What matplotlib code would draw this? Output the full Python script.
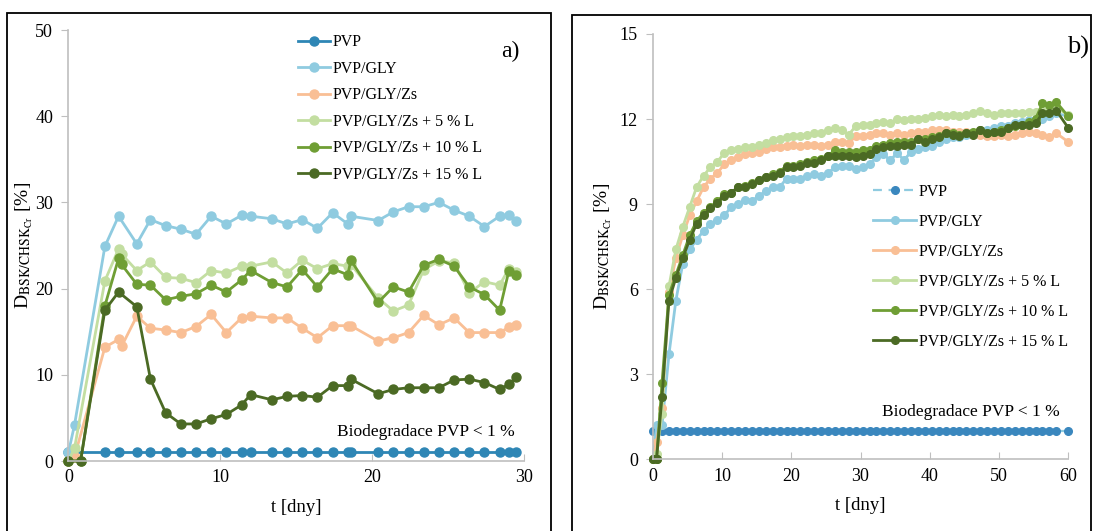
"""
Biodegradation degree D_BSK/CHSK_Cr of PVP-based films.

Panel a) first 30 days, panel b) 60-day run. Values are read off the original
figure; missing points in panel a) are NaN and simply skipped when drawing.
"""

import numpy as np
import matplotlib

matplotlib.use("Agg")
import matplotlib.pyplot as plt
from matplotlib.patches import Rectangle

nan = float("nan")

labels = [
    "PVP",
    "PVP/GLY",
    "PVP/GLY/Zs",
    "PVP/GLY/Zs + 5 % L",
    "PVP/GLY/Zs + 10 % L",
    "PVP/GLY/Zs + 15 % L",
]

# --- panel a) -------------------------------------------------------------
t_a = [0, 0.4, 0.8, 2.4, 3.3, 3.5,
       4.5, 5.4, 6.4, 7.4, 8.4, 9.4, 10.4, 11.4, 12.0,
       13.4, 14.4, 15.4, 16.4, 17.4, 18.4, 18.6,
       20.4, 21.4, 22.4, 23.4, 24.4, 25.4, 26.4, 27.4, 28.4, 29.0, 29.5]
a_pvp = [1.0, nan, nan, 1.0, 1.0, nan,
         1.0, 1.0, 1.0, 1.0, 1.0, 1.0, 1.0, 1.0, 1.0,
         1.0, 1.0, 1.0, 1.0, 1.0, 1.0, 1.0,
         1.0, 1.0, 1.0, 1.0, 1.0, 1.0, 1.0, 1.0, 1.0, 1.0, 1.0]
a_gly = [1.0, 4.2, nan, 24.9, 28.4, nan,
         25.2, 28.0, 27.3, 26.9, 26.3, 28.4, 27.5, 28.5, 28.4,
         28.1, 27.5, 28.0, 27.0, 28.8, 27.5, 28.4,
         27.9, 28.9, 29.5, 29.5, 30.0, 29.1, 28.4, 27.2, 28.4, 28.5, 27.9]
a_zs = [0.0, 0.5, nan, 13.2, 14.1, 13.3,
        16.8, 15.4, 15.2, 14.9, 15.6, 17.0, 14.9, 16.6, 16.8,
        16.6, 16.6, 15.4, 14.3, 15.7, 15.7, 15.7,
        13.9, 14.3, 14.9, 16.9, 15.8, 16.6, 14.9, 14.9, 14.9, 15.5, 15.8]
a_l5 = [0.0, 1.5, nan, 20.9, 24.6, 24.0,
        22.1, 23.1, 21.3, 21.2, 20.7, 22.1, 21.8, 22.6, 22.6,
        23.1, 21.8, 23.3, 22.3, 22.9, 22.6, 22.8,
        18.9, 17.4, 18.1, 22.2, 23.2, 23.0, 19.5, 20.8, 20.4, 22.3, 21.9]
a_l10 = [0.0, nan, 0.0, 18.0, 23.5, 22.8,
         20.5, 20.4, 18.7, 19.1, 19.4, 20.4, 19.6, 21.0, 22.1,
         20.7, 20.2, 22.2, 20.2, 22.3, 21.6, 23.3,
         18.4, 20.2, 19.6, 22.7, 23.4, 22.6, 20.2, 19.3, 17.5, 22.0, 21.6]
a_l15 = [0.0, nan, 0.0, 17.5, 19.6, nan,
         17.9, 9.5, 5.6, 4.3, 4.3, 4.9, 5.4, 6.5, 7.7,
         7.1, 7.5, 7.6, 7.4, 8.75, 8.75, 9.5,
         7.8, 8.3, 8.5, 8.5, 8.5, 9.4, 9.5, 9.1, 8.3, 8.9, 9.7]

# --- panel b) -------------------------------------------------------------
t_b = [0, 0.5, 1.3, 2.3, 3.3, 4.3, 5.3, 6.3, 7.3, 8.3, 9.3,
       10.3, 11.3, 12.3, 13.3, 14.3, 15.3, 16.3, 17.3, 18.3, 19.3,
       20.3, 21.3, 22.3, 23.3, 24.3, 25.3, 26.3, 27.3, 28.3, 29.3,
       30.3, 31.3, 32.3, 33.3, 34.3, 35.3, 36.3, 37.3, 38.3, 39.3,
       40.3, 41.3, 42.3, 43.3, 44.3, 45.3, 46.3, 47.3, 48.3, 49.3,
       50.3, 51.3, 52.3, 53.3, 54.3, 55.3, 56.3, 57.3, 58.3, 60]
b_pvp = [1.0, 1.0, 1.0, 1.0, 1.0, 1.0, 1.0, 1.0, 1.0, 1.0, 1.0,
         1.0, 1.0, 1.0, 1.0, 1.0, 1.0, 1.0, 1.0, 1.0, 1.0,
         1.0, 1.0, 1.0, 1.0, 1.0, 1.0, 1.0, 1.0, 1.0, 1.0,
         1.0, 1.0, 1.0, 1.0, 1.0, 1.0, 1.0, 1.0, 1.0, 1.0,
         1.0, 1.0, 1.0, 1.0, 1.0, 1.0, 1.0, 1.0, 1.0, 1.0,
         1.0, 1.0, 1.0, 1.0, 1.0, 1.0, 1.0, 1.0, 1.0, 1.0]
b_gly = [0.0, 1.2, 1.2, 3.7, 5.6, 6.9, 7.4, 7.75, 8.05, 8.3, 8.45,
         8.6, 8.9, 9.0, 9.15, 9.1, 9.3, 9.45, 9.6, 9.6, 9.9,
         9.9, 9.9, 10.0, 10.05, 10.0, 10.1, 10.3, 10.35, 10.35, 10.25,
         10.3, 10.4, 10.65, 10.75, 10.55, 10.8, 10.55, 10.85, 10.95, 11.0,
         11.05, 11.2, 11.3, 11.35, 11.35, 11.45, 11.5, 11.55, 11.6, 11.7,
         11.75, 11.75, 11.85, 11.9, 11.95, 12.0, 12.0, 12.1, 12.2, 12.1]
b_zs = [0.0, 0.6, 1.8, 5.9, 7.1, 7.9, 8.6, 9.1, 9.6, 9.9, 10.1,
        10.4, 10.55, 10.65, 10.75, 10.8, 10.85, 10.95, 11.0, 11.0, 11.05,
        11.1, 11.05, 11.1, 11.1, 11.05, 11.1, 11.2, 11.2, 11.15, 11.4,
        11.4, 11.45, 11.5, 11.5, 11.45, 11.5, 11.45, 11.5, 11.55, 11.55,
        11.6, 11.6, 11.6, 11.55, 11.55, 11.55, 11.5, 11.45, 11.4, 11.4,
        11.45, 11.4, 11.45, 11.5, 11.55, 11.5, 11.45, 11.35, 11.5, 11.2]
b_l5 = [0.0, 0.2, 1.6, 6.1, 7.4, 8.2, 8.9, 9.6, 10.0, 10.3, 10.5,
        10.8, 10.9, 10.95, 11.0, 11.0, 11.1, 11.15, 11.25, 11.3, 11.35,
        11.4, 11.4, 11.45, 11.5, 11.5, 11.6, 11.7, 11.6, 11.45, 11.75,
        11.8, 11.8, 11.85, 11.9, 11.85, 12.0, 11.95, 12.0, 12.0, 12.05,
        12.1, 12.15, 12.1, 12.15, 12.1, 12.15, 12.2, 12.3, 12.2, 12.15,
        12.2, 12.2, 12.2, 12.2, 12.25, 12.25, 12.3, 12.35, 12.4, 12.15]
b_l10 = [0.0, 0.0, 2.7, 5.8, 6.5, 7.2, 7.9, 8.4, 8.7, 8.9, 9.1,
         9.35, 9.4, 9.6, 9.65, 9.75, 9.85, 9.95, 10.05, 10.15, 10.35,
         10.35, 10.4, 10.5, 10.55, 10.6, 10.7, 10.9, 10.85, 10.85, 10.85,
         10.9, 10.9, 11.05, 11.1, 11.15, 11.2, 11.2, 11.2, 11.3, 11.3,
         11.35, 11.4, 11.5, 11.5, 11.45, 11.5, 11.55, 11.6, 11.5, 11.55,
         11.6, 11.7, 11.75, 11.8, 11.9, 12.0, 12.55, 12.5, 12.6, 12.1]
b_l15 = [0.0, 0.0, 2.2, 5.6, 6.4, 7.1, 7.75, 8.3, 8.6, 8.85, 9.05,
         9.3, 9.4, 9.6, 9.6, 9.7, 9.85, 9.95, 10.0, 10.1, 10.3,
         10.3, 10.35, 10.45, 10.45, 10.55, 10.7, 10.7, 10.7, 10.7, 10.65,
         10.7, 10.75, 10.95, 11.0, 11.05, 11.05, 11.1, 11.1, 11.3, 11.2,
         11.3, 11.35, 11.5, 11.45, 11.4, 11.5, 11.45, 11.6, 11.5, 11.55,
         11.55, 11.7, 11.8, 11.8, 11.8, 11.85, 12.2, 12.2, 12.3, 11.7]

colors = ["#2e86b5", "#8fcbe0", "#f9bf95", "#c3dea1", "#6f9e34", "#4b6a24"]
AXIS_GREY = "#bfbfbf"
SERIF = "Liberation Serif"

plt.rcParams["font.family"] = SERIF
plt.rcParams["mathtext.fontset"] = "stix"


def draw_series(ax, t, y, color, lw, ms, **kw):
    """Plot one line+marker series, skipping NaN gaps instead of breaking the line."""
    t = np.asarray(t, dtype=float)
    y = np.asarray(y, dtype=float)
    ok = np.isfinite(y)
    (line,) = ax.plot(t[ok], y[ok], color=color, lw=lw, marker="o", ms=ms,
                      mec=kw.pop("mec", color), mfc=kw.pop("mfc", color),
                      clip_on=False, **kw)
    return line


def style_axes(ax, xmax, xstep, ymax, ystep, ylabelpad):
    """Excel-like axes: grey left/bottom spines, serif tick labels."""
    for side in ("top", "right"):
        ax.spines[side].set_visible(False)
    for side in ("left", "bottom"):
        ax.spines[side].set_color(AXIS_GREY)
        ax.spines[side].set_linewidth(1.2)
    ax.set_xlim(0, xmax)
    ax.set_ylim(0, ymax)
    ax.set_xticks(np.arange(0, xmax + 0.1, xstep))
    ax.set_yticks(np.arange(0, ymax + 0.1, ystep))
    ax.tick_params(axis="y", direction="out", length=5, color=AXIS_GREY, labelsize=13, pad=6)
    ax.tick_params(axis="x", direction="in", length=5, color=AXIS_GREY, labelsize=13, pad=6)
    ax.set_xlabel("t [dny]", fontsize=13.5, labelpad=9)
    ax.set_ylabel(r"D$_{\mathrm{BSK/CHSK}_{\mathrm{Cr}}}$ [%]", fontsize=14,
                  labelpad=ylabelpad)


fig = plt.figure(figsize=(10.97, 5.31), dpi=100)

# panel frames (bottom edge runs off the canvas, as in the source)
fig.patches.append(Rectangle((7 / 1097, -0.05), 544 / 1097, 1.05 - 13 / 531,
                             transform=fig.transFigure, fill=False, ec="black", lw=1.3))
fig.patches.append(Rectangle((572 / 1097, -0.05), 519 / 1097, 1.05 - 15 / 531,
                             transform=fig.transFigure, fill=False, ec="black", lw=1.3))

ax_a = fig.add_axes([0.0624, 0.1318, 0.4152, 0.8117])
ax_b = fig.add_axes([0.5953, 0.1350, 0.3783, 0.8010])

# panel a)
for y, c, lab in zip([a_pvp, a_gly, a_zs, a_l5, a_l10, a_l15], colors, labels):
    draw_series(ax_a, t_a, y, c, lw=2.0, ms=6.5, label=lab)
style_axes(ax_a, 30, 10, 50, 10, ylabelpad=0)
ax_a.legend(loc="upper left", bbox_to_anchor=(0.505, 0.99), frameon=False,
            fontsize=11.5, handlelength=2.0, handletextpad=0.15, labelspacing=0.66,
            borderpad=0, borderaxespad=0)
ax_a.text(0.99, 0.975, "a)", transform=ax_a.transAxes, fontsize=17, ha="right", va="top")
ax_a.text(29.4, 3.4, "Biodegradace PVP < 1 %", fontsize=12.5, ha="right", va="center")

# panel b)
draw_series(ax_b, t_b, b_pvp, colors[1], lw=1.6, ms=5.5, ls=(0, (4, 3)),
            mfc="#3a87be", mec="#3a87be", label=labels[0])
for y, c, lab in zip([b_gly, b_zs, b_l5, b_l10, b_l15], colors[1:], labels[1:]):
    draw_series(ax_b, t_b, y, c, lw=2.0, ms=5.5, label=lab)
style_axes(ax_b, 60, 10, 15, 3, ylabelpad=4)
ax_b.legend(loc="upper left", bbox_to_anchor=(0.53, 0.648), frameon=False,
            fontsize=11.5, handlelength=2.7, handletextpad=0.15, labelspacing=0.88,
            borderpad=0, borderaxespad=0)
ax_b.text(1.05, 0.995, "b)", transform=ax_b.transAxes, fontsize=19, ha="right", va="top")
ax_b.text(58.8, 1.67, "Biodegradace PVP < 1 %", fontsize=12.5, ha="right", va="center")

fig.savefig("out.png", dpi=100)
plt.close(fig)
